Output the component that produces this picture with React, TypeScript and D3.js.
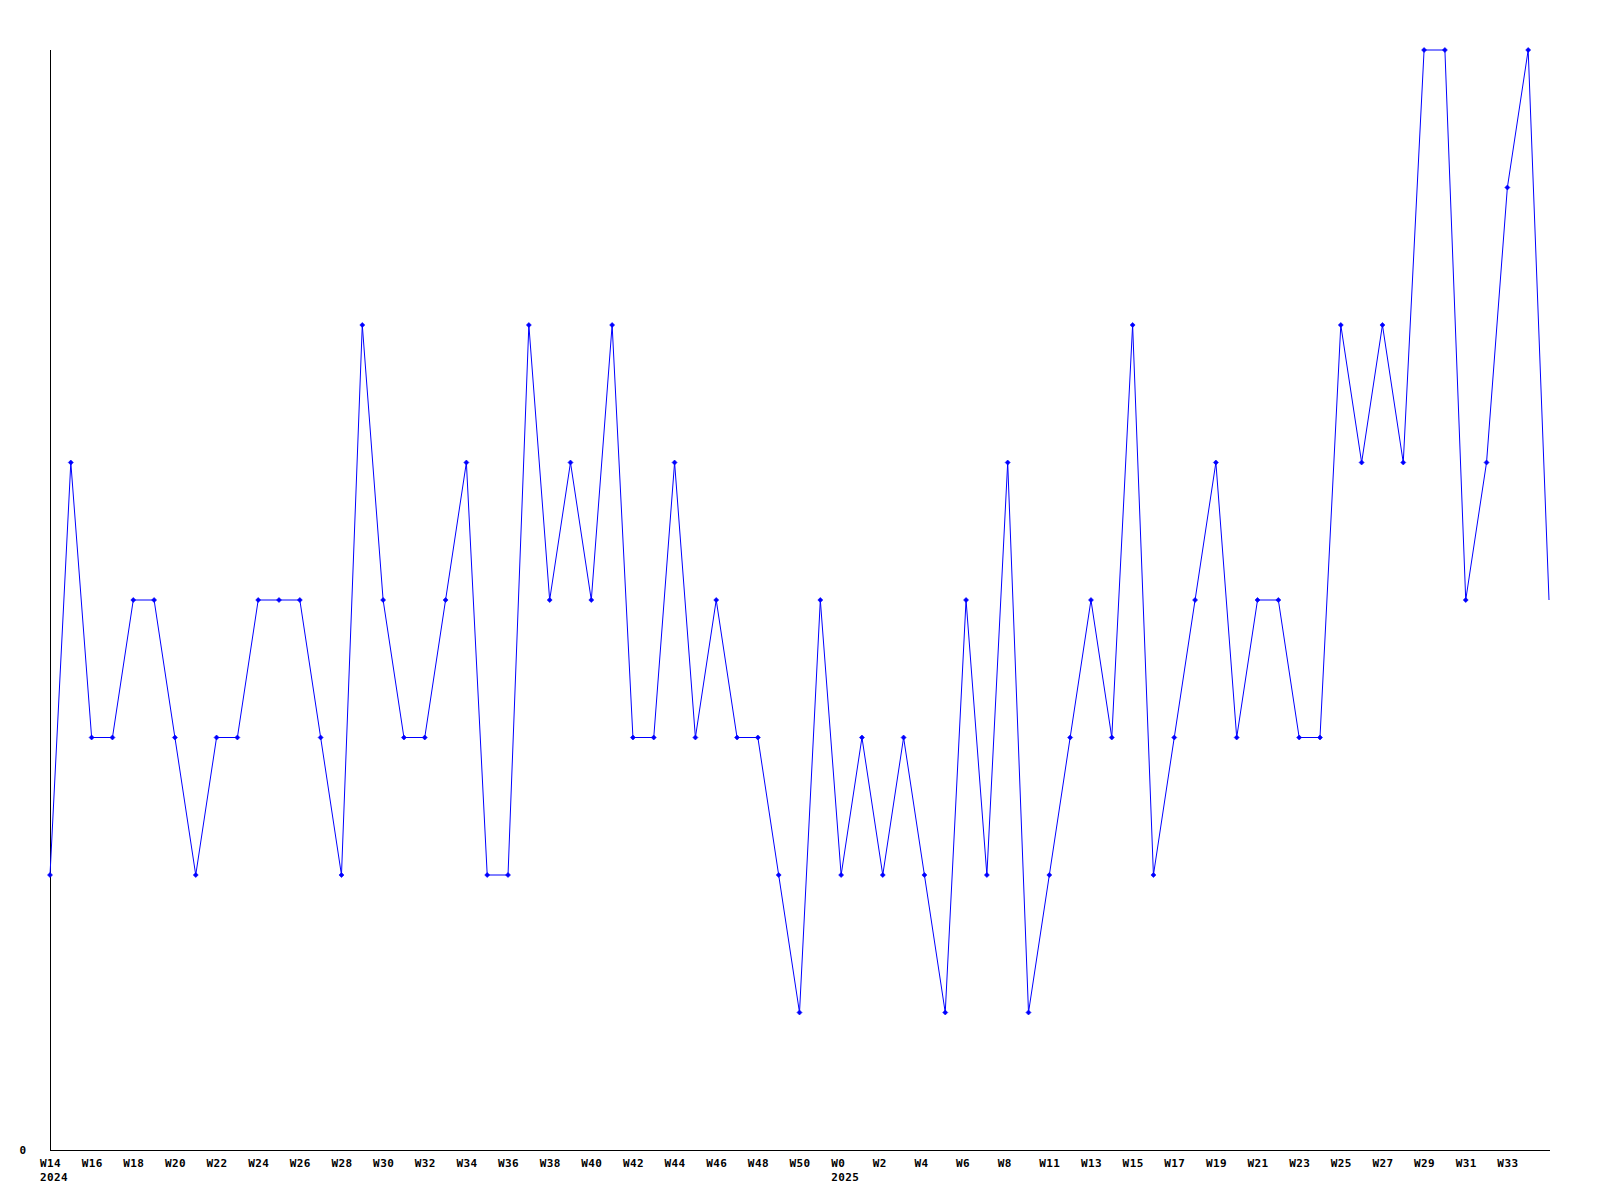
import React from "react";
import * as d3 from "d3";

const values: number[] = [
  2, 5, 3, 3, 4, 4, 3, 2, 3, 3, 4, 4, 4, 3, 2, 6, 4, 3, 3, 4, 5, 2, 2, 6, 4, 5, 4, 6, 3, 3,
  5, 3, 4, 3, 3, 2, 1, 4, 2, 3, 2, 3, 2, 1, 4, 2, 5, 1, 2, 3, 4, 3, 6, 2, 3, 4, 5, 3, 4, 4,
  3, 3, 6, 5, 6, 5, 8, 8, 4, 5, 7, 8, 4,
];

const tickLabels: string[] = [
  "W14", "W16", "W18", "W20", "W22", "W24", "W26", "W28", "W30", "W32", "W34", "W36", "W38",
  "W40", "W42", "W44", "W46", "W48", "W50", "W0", "W2", "W4", "W6", "W8", "W11", "W13", "W15",
  "W17", "W19", "W21", "W23", "W25", "W27", "W29", "W31", "W33",
];
const tickIndices: number[] = tickLabels.map((_, i) => i * 2);

const yearLabels: string[] = ["2024", "2025"];
const yearIndices: number[] = [0, 38];

const yMax = 8;

export default function App() {
  const W = 1600;
  const H = 1200;
  const left = 50;
  const right = 1549;
  const top = 50;
  const bottom = 1150;

  const x = d3.scaleLinear().domain([0, values.length - 1]).range([left, right]);
  const y = d3.scaleLinear().domain([0, yMax]).range([bottom, top]);

  const line = d3
    .line<number>()
    .x((_, i) => x(i))
    .y((d) => y(d));

  const diamond = (cx: number, cy: number) =>
    `M${cx},${cy - 2.5}L${cx + 2.5},${cy}L${cx},${cy + 2.5}L${cx - 2.5},${cy}Z`;

  const font = "'DejaVu Sans Mono', monospace";

  return (
    <svg
      width={W}
      height={H}
      style={{ position: "absolute", left: 0, top: 0, background: "#fff" }}
    >
      <rect x={0} y={0} width={W} height={H} fill="#fff" />
      <line x1={left + 0.5} y1={top} x2={left + 0.5} y2={bottom} stroke="#000" strokeWidth={1} />
      <line x1={left} y1={bottom + 0.5} x2={right + 1} y2={bottom + 0.5} stroke="#000" strokeWidth={1} />
      <text
        x={26}
        y={y(0) + 4}
        textAnchor="end"
        fontFamily={font}
        fontWeight="bold"
        fontSize={11}
        fill="#000"
      >
        0
      </text>
      {tickLabels.map((t, i) => (
        <text
          key={t + i}
          x={x(tickIndices[i]) - 10}
          y={1167}
          fontFamily={font}
          fontWeight="bold"
          fontSize={11}
          letterSpacing={0.4}
          fill="#000"
        >
          {t}
        </text>
      ))}
      {yearLabels.map((t, i) => (
        <text
          key={t}
          x={x(yearIndices[i]) - 10}
          y={1181}
          fontFamily={font}
          fontWeight="bold"
          fontSize={11}
          letterSpacing={0.4}
          fill="#000"
        >
          {t}
        </text>
      ))}
      <path d={line(values) || ""} fill="none" stroke="#0000ff" strokeWidth={1} />
      {values.slice(0, values.length - 1).map((v, i) => (
        <path key={i} d={diamond(x(i), y(v))} fill="#0000ff" stroke="#0000ff" strokeWidth={0.6} />
      ))}
    </svg>
  );
}
